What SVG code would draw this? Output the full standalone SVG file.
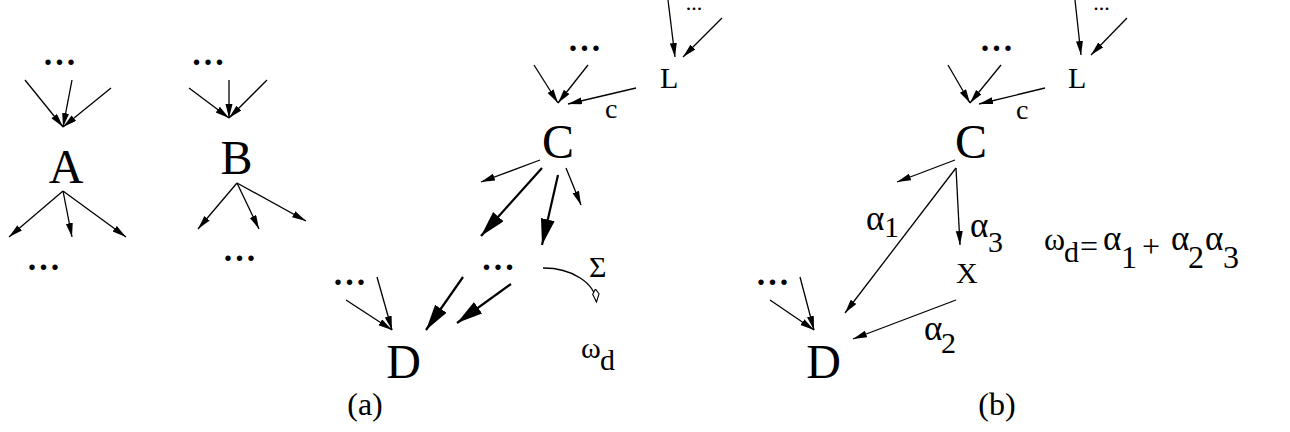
<svg xmlns="http://www.w3.org/2000/svg" width="1290" height="432" viewBox="0 0 1290 432">
<style>
text{font-family:"Liberation Serif","Times New Roman",serif;fill:#000}
.big{font-size:48px;text-anchor:middle}
.dots{font-size:46px;text-anchor:middle}
.sdots{font-size:22px;text-anchor:middle}
.lbl{font-size:30px}
.gr{font-size:35px}
.cap{font-size:32px;text-anchor:middle}
.thin{stroke:#000;stroke-width:1.3;fill:none;marker-end:url(#ah)}
.thick{stroke:#000;stroke-width:2.2;fill:none;marker-end:url(#ahb)}
</style>
<defs>
<marker id="ah" markerUnits="userSpaceOnUse" markerWidth="16" markerHeight="10" refX="14" refY="3.5" orient="auto"><path d="M0,0 L14,3.5 L0,7 Z" fill="#000"/></marker>
<marker id="ahb" markerUnits="userSpaceOnUse" markerWidth="28" markerHeight="16" refX="26" refY="7" orient="auto"><path d="M0,0 L26,7 L0,14 Z" fill="#000"/></marker>
<marker id="kite" markerUnits="userSpaceOnUse" markerWidth="16" markerHeight="10" refX="13" refY="4" orient="auto"><path d="M0,4 L5,0.8 L13,4 L5,7.2 Z" fill="#fff" stroke="#000" stroke-width="1.1"/></marker>
</defs>

<g id="nodes">
<g id="A-in-dots"><text class="dots" x="59.5" y="64.5">...</text></g>
<g id="A"><text class="big" x="66" y="183">A</text></g>
<g id="A-out-dots"><text class="dots" x="43.5" y="269.5">...</text></g>
<g id="B-in-dots"><text class="dots" x="208" y="64.5">...</text></g>
<g id="B"><text class="big" x="236.5" y="174">B</text></g>
<g id="B-out-dots"><text class="dots" x="239.5" y="260.5">...</text></g>

<g id="Ca-dots"><text class="dots" x="584.5" y="50.5">...</text></g>
<g id="La-dots"><text class="sdots" x="694" y="10">...</text></g>
<g id="La"><text class="lbl" x="660" y="88">L</text></g>
<g id="Ca"><text class="big" x="558" y="158">C</text></g>
<g id="mid-dots"><text class="dots" x="498" y="269.5">...</text></g>
<g id="Da-dots"><text class="dots" x="349.5" y="284.5">...</text></g>
<g id="Da"><text class="big" x="403.5" y="378">D</text></g>
<g id="omega-a"><text class="lbl"><tspan x="581" y="358">ω</tspan><tspan x="600" y="370">d</tspan></text></g>

<g id="Cb-dots"><text class="dots" x="996.5" y="50.5">...</text></g>
<g id="Lb-dots"><text class="sdots" x="1101.5" y="9.5">...</text></g>
<g id="Lb"><text class="lbl" x="1068" y="88">L</text></g>
<g id="Cb"><text class="big" x="971" y="158">C</text></g>
<g id="Xb"><text class="lbl" x="956" y="283">X</text></g>
<g id="Db-dots"><text class="dots" x="772.5" y="284.5">...</text></g>
<g id="Db"><text class="big" x="823.5" y="378">D</text></g>
<g id="equation"><text class="lbl" style="font-size:32px"><tspan x="1044" y="250">ω</tspan><tspan x="1064" y="262" style="font-size:30px">d</tspan><tspan x="1080" y="257">=</tspan><tspan class="gr" x="1103" y="250">α</tspan><tspan x="1121" y="268">1</tspan><tspan x="1142" y="257">+</tspan><tspan class="gr" x="1171" y="250">α</tspan><tspan x="1188" y="268">2</tspan><tspan class="gr" x="1205" y="250">α</tspan><tspan x="1223" y="268">3</tspan></text></g>
</g>

<g id="connectors">
<line class="thin" x1="25" y1="80" x2="63" y2="127"/>
<line class="thin" x1="72" y1="80" x2="63" y2="127"/>
<line class="thin" x1="111" y1="88" x2="63" y2="127"/>
<line class="thin" x1="63" y1="191" x2="9" y2="237"/>
<line class="thin" x1="63" y1="191" x2="72" y2="237"/>
<line class="thin" x1="63" y1="191" x2="126" y2="237"/>
<line class="thin" x1="189" y1="88" x2="229" y2="118"/>
<line class="thin" x1="229" y1="80" x2="229" y2="118"/>
<line class="thin" x1="267" y1="80" x2="229" y2="118"/>
<line class="thin" x1="237" y1="183" x2="198" y2="229"/>
<line class="thin" x1="237" y1="183" x2="259" y2="229"/>
<line class="thin" x1="237" y1="183" x2="306" y2="221"/>

<line class="thin" x1="534" y1="65" x2="558" y2="103"/>
<line class="thin" x1="588" y1="65" x2="558" y2="103"/>
<line class="thin" x1="636" y1="88" x2="568" y2="104"/>
<line class="thin" x1="668" y1="0" x2="675" y2="57"/>
<line class="thin" x1="722" y1="18" x2="683" y2="57"/>
<line class="thin" x1="540" y1="160" x2="481" y2="182"/>
<line class="thick" x1="542" y1="168" x2="481" y2="236"/>
<line class="thick" x1="558" y1="175" x2="542" y2="245"/>
<line class="thin" x1="566" y1="168" x2="581" y2="205"/>
<line class="thin" x1="346" y1="300" x2="392" y2="330"/>
<line class="thin" x1="377" y1="277" x2="392" y2="330"/>
<line class="thick" x1="463" y1="277" x2="426" y2="330"/>
<line class="thick" x1="511" y1="284" x2="457" y2="323"/>
<path d="M543,268 A53,36 0 0 1 596.5,302" stroke="#000" stroke-width="1.3" fill="none" marker-end="url(#kite)"/>

<line class="thin" x1="1075" y1="0" x2="1081" y2="55"/>
<line class="thin" x1="1127" y1="18" x2="1091" y2="55"/>
<line class="thin" x1="948" y1="65" x2="970" y2="103"/>
<line class="thin" x1="1001" y1="65" x2="970" y2="103"/>
<line class="thin" x1="1045" y1="88" x2="979" y2="104"/>
<line class="thin" x1="955" y1="160" x2="897" y2="182"/>
<line class="thin" x1="956" y1="168" x2="845" y2="313"/>
<line class="thin" x1="956" y1="168" x2="960" y2="245"/>
<line class="thin" x1="956" y1="300" x2="853" y2="339"/>
<line class="thin" x1="770" y1="300" x2="814" y2="330"/>
<line class="thin" x1="800" y1="277" x2="814" y2="330"/>
</g>

<g id="labels">
<text class="lbl" x="605" y="118" style="font-size:28px">c</text>
<text class="lbl" x="1016" y="119" style="font-size:28px">c</text>
<text class="lbl" x="589" y="277">Σ</text>
<text class="lbl"><tspan class="gr" x="866" y="230">α</tspan><tspan x="884" y="237">1</tspan></text>
<text class="lbl"><tspan class="gr" x="970" y="237">α</tspan><tspan x="988" y="252">3</tspan></text>
<text class="lbl"><tspan class="gr" x="924" y="340">α</tspan><tspan x="941" y="353">2</tspan></text>
<text class="cap" x="365" y="415">(a)</text>
<text class="cap" x="997" y="415">(b)</text>
</g>
</svg>
